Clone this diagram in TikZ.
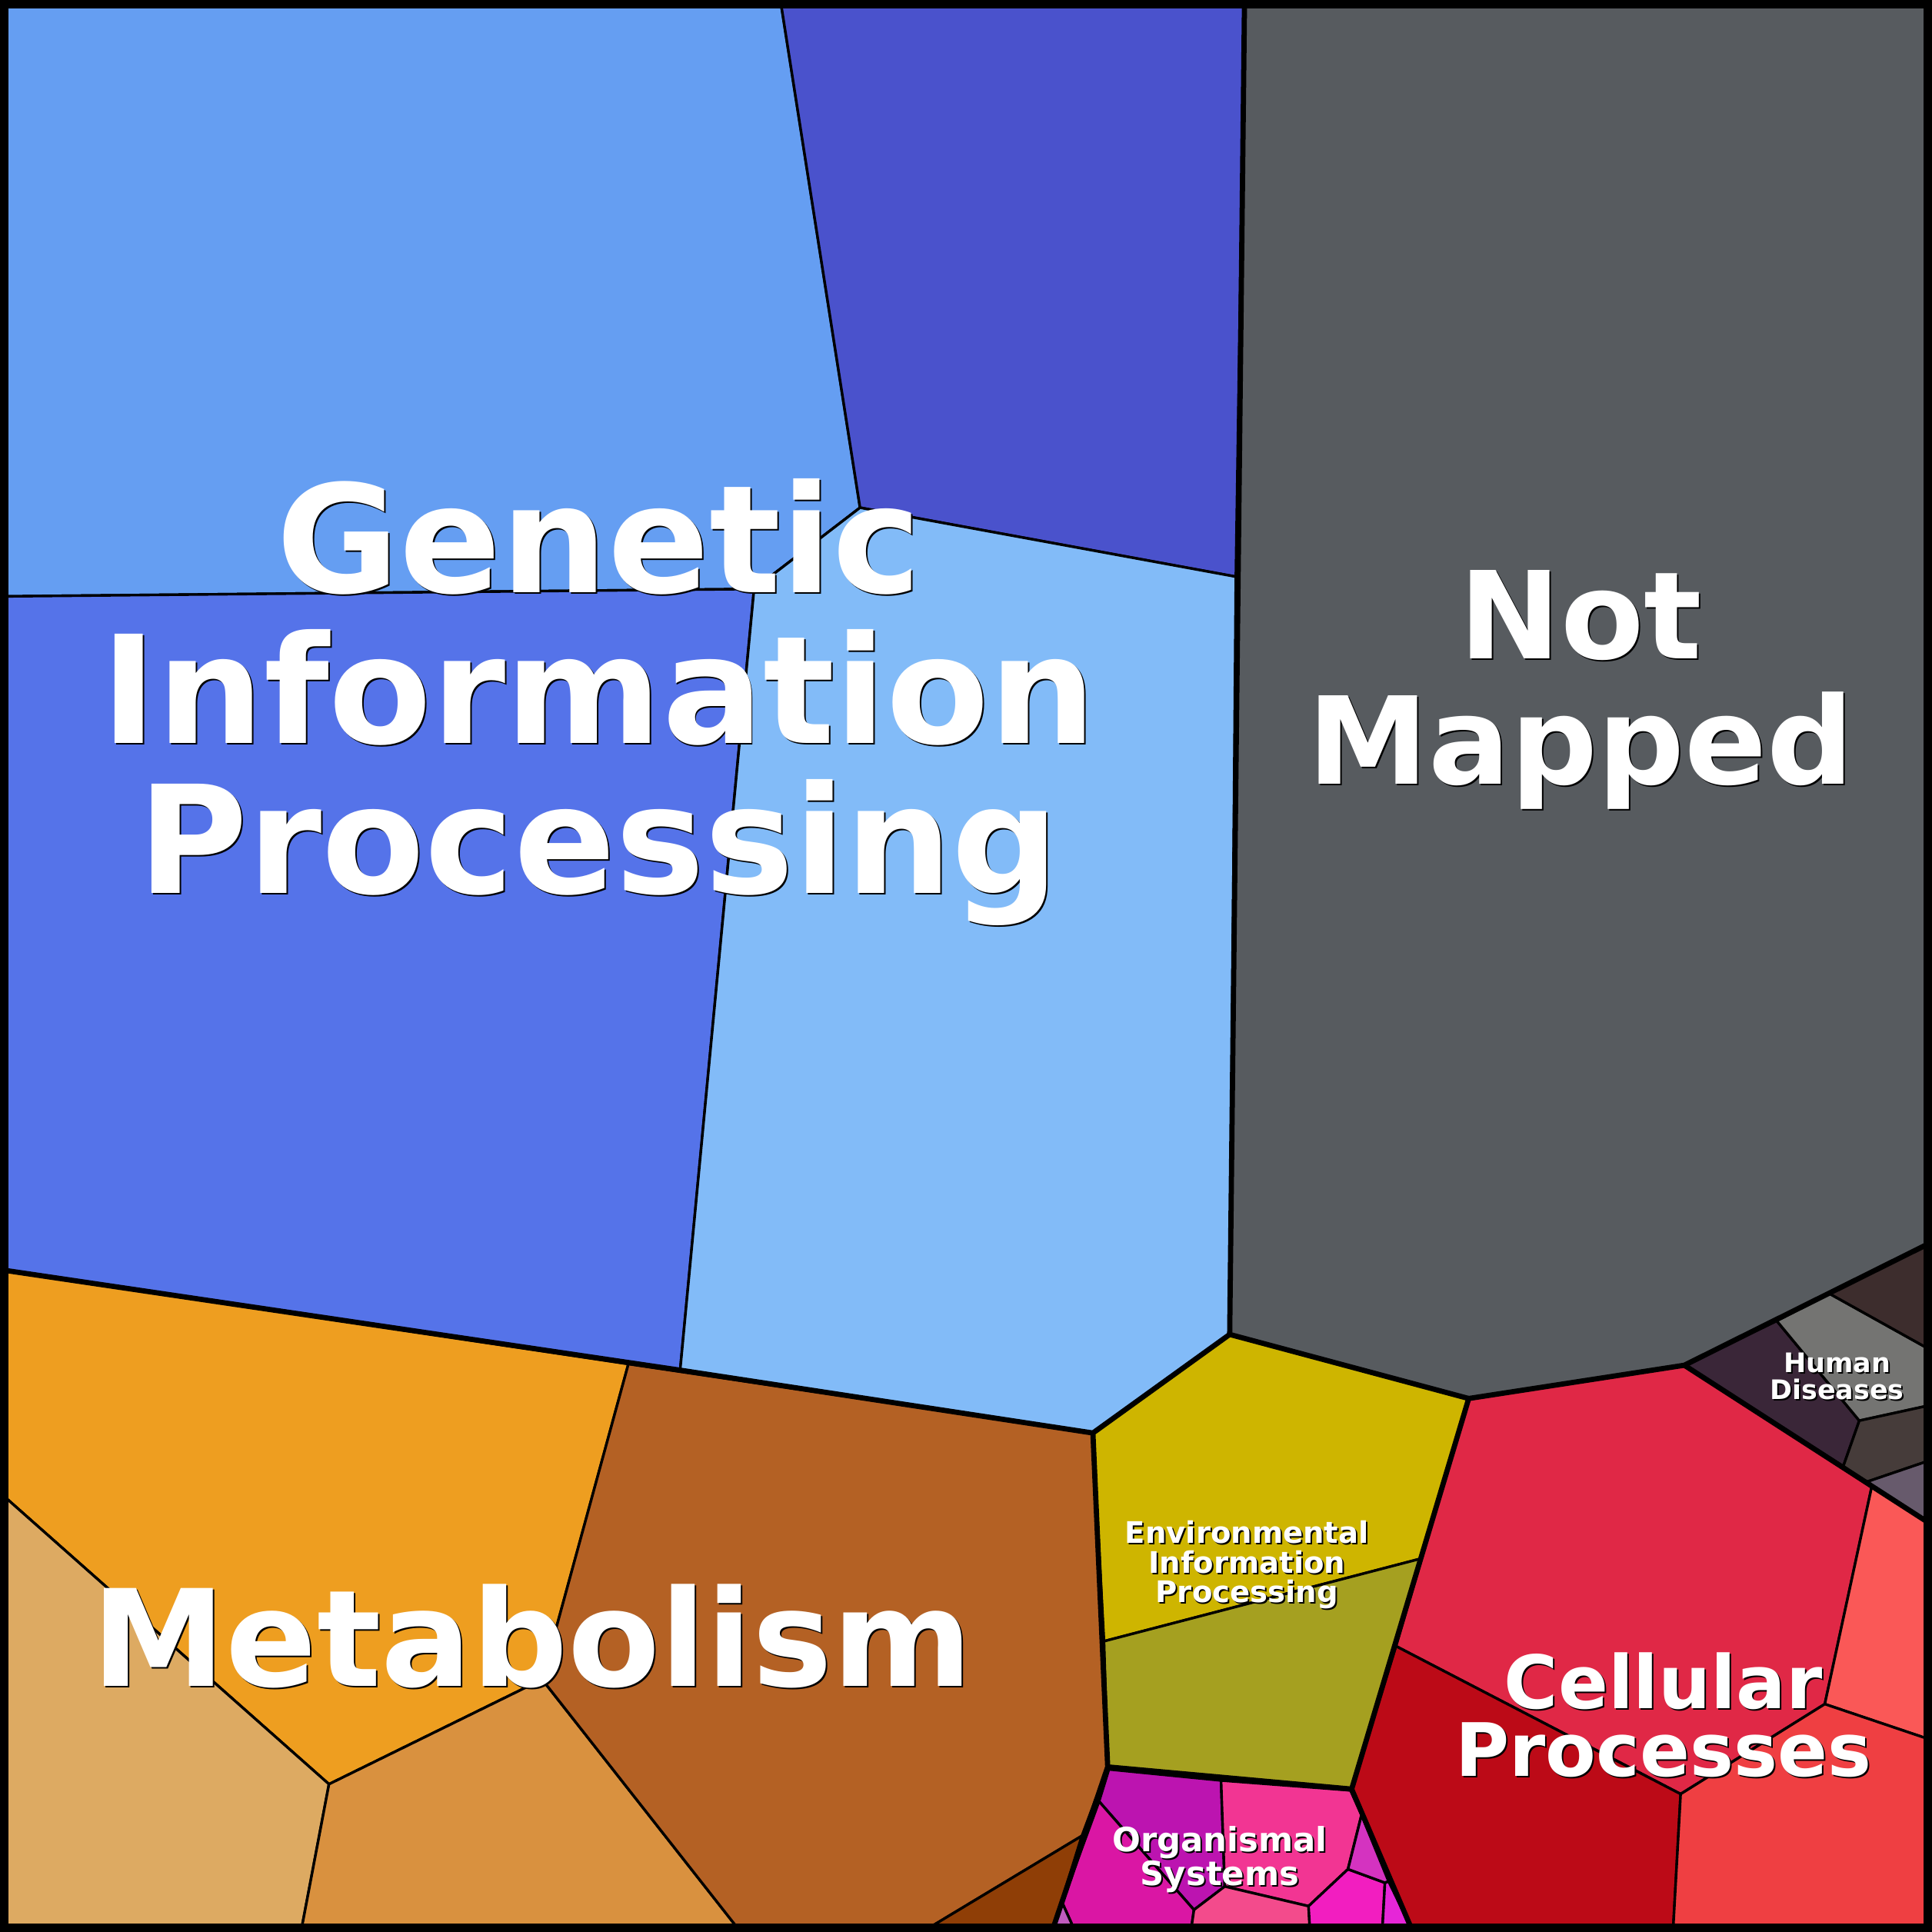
\documentclass[tikz,border=0pt]{standalone}
\usepackage{fontspec}
\setmainfont{DejaVu Sans}
\usetikzlibrary{positioning,calc}

\definecolor{gipA}{HTML}{659EF2}
\definecolor{gipB}{HTML}{4A52CC}
\definecolor{gipC}{HTML}{5573E9}
\definecolor{gipD}{HTML}{82BBF8}
\definecolor{nmap}{HTML}{575B5F}
\definecolor{metA}{HTML}{EE9E20}
\definecolor{metB}{HTML}{DDAA62}
\definecolor{metC}{HTML}{D9913F}
\definecolor{metD}{HTML}{B46124}
\definecolor{metE}{HTML}{8F3E06}
\definecolor{envA}{HTML}{CEB500}
\definecolor{envB}{HTML}{A5A020}
\definecolor{celA}{HTML}{E02846}
\definecolor{celB}{HTML}{BC0A17}
\definecolor{celC}{HTML}{FA5857}
\definecolor{celD}{HTML}{EF3F42}
\definecolor{hdA}{HTML}{3A2638}
\definecolor{hdB}{HTML}{747472}
\definecolor{hdC}{HTML}{3D2D2D}
\definecolor{hdD}{HTML}{463C3A}
\definecolor{hdE}{HTML}{675A6C}
\definecolor{orgA}{HTML}{BC14B0}
\definecolor{orgB}{HTML}{DA16A4}
\definecolor{orgC}{HTML}{C05BBE}
\definecolor{orgD}{HTML}{F23593}
\definecolor{orgE}{HTML}{F34B8C}
\definecolor{orgF}{HTML}{F21EC0}
\definecolor{orgG}{HTML}{D433C0}
\definecolor{orgH}{HTML}{E626D8}

\tikzset{
  cell/.style={draw=black,line width=0.6pt,line join=round},
  group/.style={draw=black,line width=1.2pt,line join=round},
  lbl/.style={text=white,font=\bfseries,align=center,inner sep=0pt},
}
% label with a dark shadow behind it
\newcommand{\shlbl}[4]{%
  \node[lbl,text=black,font=\bfseries#3] at ($(#2)+(1.2,1.2)$) {#4};
  \node[lbl,font=\bfseries#3] (#1) at (#2) {#4};}

\begin{document}
\begin{tikzpicture}[x=0.01cm,y=-0.01cm]
\useasboundingbox (0,0) rectangle (1568,1568);
% genetic information processing
\fill[gipA,cell] (4,4) -- (634,4) -- (698,412) -- (612,478) -- (4,484) -- cycle;
\fill[gipB,cell] (634,4) -- (1010,4) -- (1003,468) -- (698,412) -- cycle;
\fill[gipC,cell] (4,484) -- (612,478) -- (552,1112) -- (4,1031) -- cycle;
\fill[gipD,cell] (612,478) -- (698,412) -- (1003,468) -- (998,1083) -- (887,1163) -- (552,1112) -- cycle;
% not mapped
\fill[nmap,cell] (1010,4) -- (1564,4) -- (1564,1010) -- (1367,1108) -- (1192,1135) -- (998,1083) -- cycle;
% metabolism
\fill[metA,cell] (4,1031) -- (510,1107) -- (440,1363) -- (267,1448) -- (4,1215) -- cycle;
\fill[metB,cell] (4,1215) -- (267,1448) -- (245,1564) -- (4,1564) -- cycle;
\fill[metC,cell] (267,1448) -- (440,1363) -- (598,1564) -- (245,1564) -- cycle;
\fill[metD,cell] (510,1107) -- (887,1163) -- (899,1434) -- (878,1490) -- (755,1564) -- (598,1564) -- (440,1363) -- cycle;
\fill[metE,cell] (878,1490) -- (855,1564) -- (755,1564) -- cycle;
% environmental information processing
\fill[envA,cell] (887,1163) -- (998,1083) -- (1192,1135) -- (1153,1265) -- (896,1332) -- cycle;
\fill[envB,cell] (896,1332) -- (1153,1265) -- (1097,1452) -- (899,1434) -- cycle;
% cellular processes
\fill[celA,cell] (1192,1135) -- (1367,1108) -- (1519,1207) -- (1481,1383) -- (1364,1456) -- (1133,1336) -- cycle;
\fill[celB,cell] (1133,1336) -- (1364,1456) -- (1358,1564) -- (1145,1564) -- (1097,1452) -- cycle;
\fill[celC,cell] (1519,1207) -- (1564,1235) -- (1564,1411) -- (1481,1383) -- cycle;
\fill[celD,cell] (1481,1383) -- (1564,1411) -- (1564,1564) -- (1358,1564) -- (1364,1456) -- cycle;
% human diseases
\fill[hdA,cell] (1367,1108) -- (1442,1072) -- (1509,1153) -- (1496,1190) -- cycle;
\fill[hdB,cell] (1442,1072) -- (1485,1050) -- (1564,1094) -- (1564,1141) -- (1509,1153) -- cycle;
\fill[hdC,cell] (1485,1050) -- (1564,1010) -- (1564,1094) -- cycle;
\fill[hdD,cell] (1509,1153) -- (1564,1141) -- (1564,1186) -- (1514,1203) -- (1496,1190) -- cycle;
\fill[hdE,cell] (1514,1203) -- (1564,1186) -- (1564,1235) -- cycle;
% organismal systems
\fill[orgA,cell] (900,1436) -- (991,1445) -- (994,1531) -- (969,1550) -- (892,1462) -- cycle;
\fill[orgB,cell] (892,1462) -- (969,1550) -- (967,1564) -- (871,1564) -- (862,1544) -- cycle;
\fill[orgC,cell] (862,1544) -- (871,1564) -- (855,1564) -- cycle;
\fill[orgD,cell] (991,1445) -- (1096,1453) -- (1105,1473) -- (1094,1517) -- (1062,1547) -- (994,1531) -- cycle;
\fill[orgE,cell] (969,1550) -- (994,1531) -- (1062,1547) -- (1063,1564) -- (967,1564) -- cycle;
\fill[orgF,cell] (1062,1547) -- (1094,1517) -- (1124,1528) -- (1122,1564) -- (1063,1564) -- cycle;
\fill[orgG,cell] (1105,1473) -- (1127,1527) -- (1124,1528) -- (1094,1517) -- cycle;
\fill[orgH,cell] (1124,1528) -- (1127,1527) -- (1145,1564) -- (1122,1564) -- cycle;
% group borders
\draw[group] (1010,4) -- (998,1083) -- (887,1163) -- (552,1112) -- (4,1031);
\draw[group] (887,1163) -- (899,1434) -- (855,1564);
\draw[group] (899,1434) -- (1097,1452) -- (1145,1564);
\draw[group] (998,1083) -- (1192,1135) -- (1097,1452);
\draw[group] (1192,1135) -- (1367,1108) -- (1564,1010);
\draw[group] (1367,1108) -- (1564,1235);
\draw[black,line width=2pt] (3.5,3.5) rectangle (1564.5,1564.5);
% labels
\shlbl{gip}{486,570}{\fontsize{34.6}{34.7}\selectfont}{Genetic\\Information\\Processing}
\shlbl{nm}{1283,560}{\fontsize{28}{29}\selectfont}{Not\\Mapped}
\shlbl{met}{432,1328}{\fontsize{31}{31}\selectfont}{Metabolism}
\shlbl{cel}{1350,1392}{\fontsize{17}{15.6}\selectfont}{Cellular\\Processes}
\shlbl{env}{1012,1270}{\fontsize{6.85}{6.8}\selectfont}{Environmental\\Information\\Processing}
\shlbl{org}{990,1509}{\fontsize{7.7}{7.8}\selectfont}{Organismal\\Systems}
\shlbl{hd}{1491,1117}{\fontsize{6.2}{6.2}\selectfont}{Human\\Diseases}
\end{tikzpicture}
\end{document}
